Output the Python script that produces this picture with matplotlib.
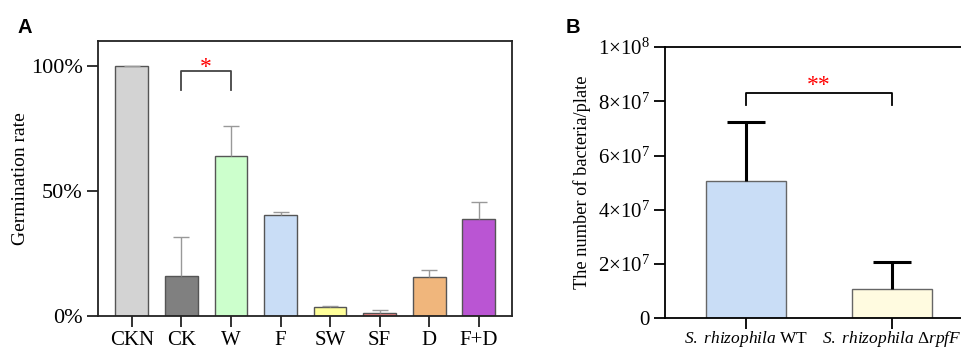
import matplotlib
matplotlib.use('Agg')
import matplotlib.pyplot as plt
import numpy as np

plt.rcParams['font.family'] = ['Liberation Serif', 'DejaVu Serif']
plt.rcParams['mathtext.fontset'] = 'custom'
plt.rcParams['mathtext.rm'] = 'Liberation Serif'
plt.rcParams['mathtext.it'] = 'Liberation Serif:italic'
plt.rcParams['mathtext.bf'] = 'Liberation Serif:bold'

# panel A data
groups_a = ['CKN', 'CK', 'W', 'F', 'SW', 'SF', 'D', 'F+D']
rate_a = [1.00, 0.159, 0.641, 0.404, 0.035, 0.013, 0.157, 0.389]
err_a = [0.0, 0.156, 0.120, 0.011, 0.004, 0.012, 0.026, 0.068]
colors_a = ['#d3d3d3', '#808080', '#ccffcc', '#c9ddf6', '#ffff99',
            '#f08080', '#f0b67c', '#ba55d3']

# panel B data
groups_b = [r'$\mathit{S.\ rhizophila}$ WT',
            r'$\mathit{S.\ rhizophila}\ \Delta\mathit{rpfF}$']
count_b = [5.07e7, 1.07e7]
err_b = [2.15e7, 1.00e7]
colors_b = ['#c9ddf6', '#fffbe0']
yticks_b = [0, 2e7, 4e7, 6e7, 8e7, 1e8]
yticklabels_b = ['0', r'$2{\times}10^{7}$', r'$4{\times}10^{7}$',
                 r'$6{\times}10^{7}$', r'$8{\times}10^{7}$', r'$1{\times}10^{8}$']

fig = plt.figure(figsize=(9.62, 3.52), dpi=100)

# ===== Panel A =====
ax = fig.add_axes([0.1019, 0.1023, 0.4304, 0.7821])
xa = np.arange(len(groups_a))
ax.bar(xa, rate_a, width=0.66, color=colors_a, edgecolor='#555555',
       linewidth=1.0, zorder=2)
eb = ax.errorbar(xa, rate_a, yerr=[np.zeros(len(err_a)), err_a], fmt='none',
                 ecolor='#999999', elinewidth=1.0, capsize=6, capthick=1.0,
                 zorder=3)
eb[1][0].set_visible(False)
ax.set_xlim(-0.68, 7.67)
ax.set_ylim(0, 1.10)
ax.set_yticks([0, 0.5, 1.0])
ax.set_yticklabels(['0%', '50%', '100%'])
ax.set_xticks(xa)
ax.set_xticklabels(groups_a)
ax.tick_params(axis='both', length=8, width=1.3, color='#222222')
ax.tick_params(axis='y', labelsize=16, pad=3)
ax.tick_params(axis='x', labelsize=15, pad=3)
ax.set_ylabel('Germination rate', fontsize=14, labelpad=1)
for s in ax.spines.values():
    s.set_linewidth(1.3)
    s.set_color('#222222')

# significance bracket CK vs W
ax.plot([1, 1, 2, 2], [0.904, 0.979, 0.979, 0.904], color='#444444', lw=1.3)
ax.text(1.5, 0.972, '*', color='red', ha='center', va='baseline', fontsize=17)

fig.text(0.018, 0.905, 'A', fontsize=14.5, fontweight='bold',
         family='Liberation Sans')

# ===== Panel B =====
bx = fig.add_axes([0.6913, 0.0957, 0.3087, 0.7707])
xb = np.arange(len(groups_b))
bx.bar(xb, count_b, width=0.553, color=colors_b, edgecolor='#666666',
       linewidth=1.0, zorder=2)
eb2 = bx.errorbar(xb, count_b, yerr=[np.zeros(len(err_b)), err_b], fmt='none',
                  ecolor='black', elinewidth=2.2, capsize=14, capthick=2.2,
                  zorder=3)
eb2[1][0].set_visible(False)
bx.set_xlim(-0.556, 1.48)
bx.set_ylim(0, 1e8)
bx.set_yticks(yticks_b)
bx.set_yticklabels(yticklabels_b)
bx.set_xticks(xb)
bx.set_xticklabels(groups_b, fontsize=12.5)
bx.tick_params(axis='y', labelsize=15, length=8, width=1.3, pad=3)
bx.tick_params(axis='x', length=8, width=1.3, pad=0)
bx.set_ylabel('The number of bacteria/plate', fontsize=13.2, labelpad=5)
bx.spines['right'].set_visible(False)
for s in ['left', 'top', 'bottom']:
    bx.spines[s].set_linewidth(1.3)

bx.plot([0, 0, 1, 1], [7.85e7, 8.31e7, 8.31e7, 7.85e7], color='black', lw=1.3)
bx.text(0.5, 8.38e7, '**', color='red', ha='center', va='baseline', fontsize=17)

fig.text(0.588, 0.905, 'B', fontsize=14.5, fontweight='bold',
         family='Liberation Sans')

fig.savefig('out.png', dpi=100, facecolor='white')
